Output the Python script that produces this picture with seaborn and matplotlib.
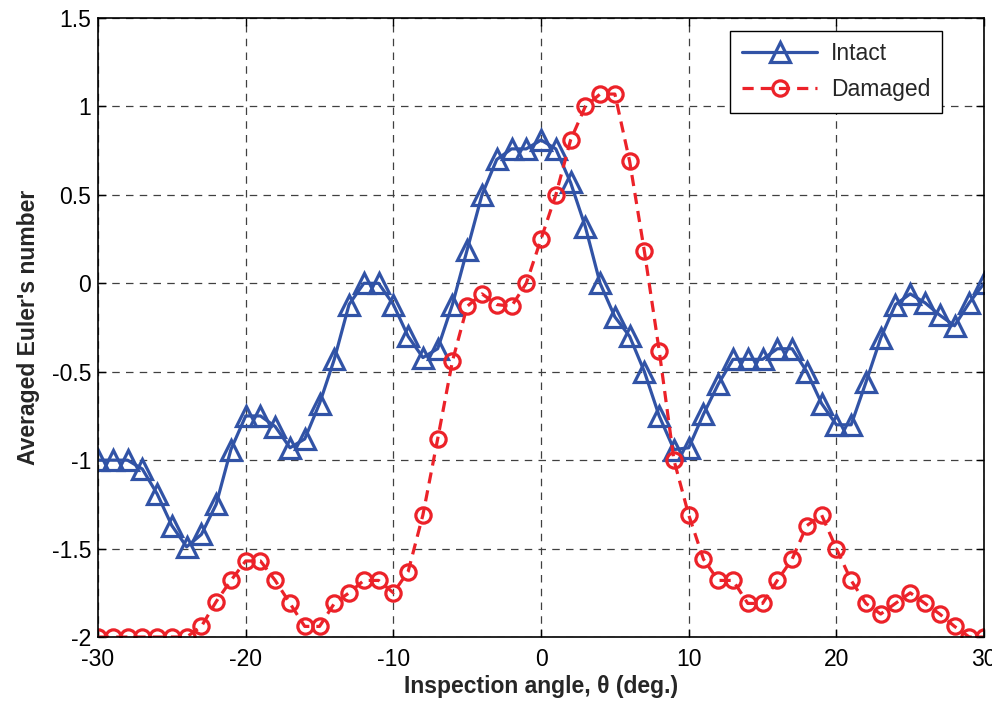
import numpy as np
import pandas as pd
import matplotlib
matplotlib.use("Agg")
import matplotlib.pyplot as plt
import seaborn as sns

angles = list(range(-30, 31))

intact = [-1.0, -1.0, -1.0, -1.05, -1.19, -1.37, -1.49, -1.42, -1.25, -0.94,
          -0.75, -0.75, -0.81, -0.93, -0.88, -0.68, -0.43, -0.12, 0.0, 0.0,
          -0.12, -0.30, -0.42, -0.37, -0.12, 0.19, 0.50, 0.70, 0.76, 0.76,
          0.81, 0.76, 0.57, 0.32, 0.0, -0.19, -0.30, -0.50, -0.75, -0.94,
          -0.93, -0.74, -0.57, -0.43, -0.43, -0.43, -0.37, -0.37, -0.50, -0.68,
          -0.80, -0.80, -0.56, -0.31, -0.12, -0.06, -0.11, -0.18, -0.24, -0.11,
          0.0]

damaged = [-2.0, -2.0, -2.0, -2.0, -2.0, -2.0, -2.0, -1.94, -1.80, -1.68,
           -1.57, -1.57, -1.68, -1.81, -1.94, -1.94, -1.81, -1.75, -1.68, -1.68,
           -1.75, -1.63, -1.31, -0.88, -0.44, -0.13, -0.06, -0.12, -0.13, 0.0,
           0.25, 0.50, 0.81, 1.0, 1.07, 1.07, 0.69, 0.18, -0.38, -1.0,
           -1.31, -1.56, -1.68, -1.68, -1.81, -1.81, -1.68, -1.56, -1.37, -1.31,
           -1.50, -1.68, -1.81, -1.87, -1.81, -1.75, -1.81, -1.87, -1.94, -2.0,
           -2.0]

xticks = [-30, -20, -10, 0, 10, 20, 30]
yticks = [-2, -1.5, -1, -0.5, 0, 0.5, 1, 1.5]
ytick_labels = ["-2", "-1.5", "-1", "-0.5", "0", "0.5", "1", "1.5"]
xtick_labels = ["-30", "-20", "-10", "0", "10", "20", "30"]

sns.set_theme(style="white")
plt.rcParams['font.family'] = ['Liberation Sans', 'DejaVu Sans']
plt.rcParams['axes.unicode_minus'] = False

df = pd.DataFrame({"angle": angles, "Intact": intact, "Damaged": damaged})

fig = plt.figure(figsize=(9.92, 7.06), dpi=100)
ax = fig.add_axes([0.0988, 0.0977, 0.8932, 0.8768])

blue = "#3153A6"
red = "#EC2229"

sns.lineplot(data=df, x="angle", y="Intact", ax=ax, color=blue, linewidth=2.3,
             marker="^", markersize=15, markerfacecolor="none",
             markeredgecolor=blue, markeredgewidth=2.3, label="Intact")
sns.lineplot(data=df, x="angle", y="Damaged", ax=ax, color=red, linewidth=2.3,
             linestyle=(0, (3.5, 2.2)), marker="o", markersize=11,
             markerfacecolor="none", markeredgecolor=red, markeredgewidth=2.3,
             label="Damaged")

ax.set_xlim(-30, 30)
ax.set_ylim(-2, 1.5)
ax.set_xticks(xticks)
ax.set_xticklabels(xtick_labels)
ax.set_yticks(yticks)
ax.set_yticklabels(ytick_labels)
ax.tick_params(direction="in", length=6, width=1, labelsize=16.5, colors="black",
               top=True, right=True, bottom=True, left=True)
ax.tick_params(axis="x", pad=8)
ax.tick_params(axis="y", pad=5)
ax.grid(True, color="0.25", linestyle=(0, (6, 5)), linewidth=0.9)
for s in ax.spines.values():
    s.set_color("black")
    s.set_linewidth(1.2)

ax.set_xlabel("Inspection angle, θ (deg.)", fontsize=16.5, fontweight="bold", labelpad=3)
ax.set_ylabel("Averaged Euler's number", fontsize=16.5, fontweight="bold", labelpad=8)

leg = ax.legend(loc="upper right", bbox_to_anchor=(0.9526, 0.979), fontsize=16.5,
                frameon=True, fancybox=False, handlelength=3.3, borderpad=0.5,
                labelspacing=0.55, handletextpad=0.6, borderaxespad=0)
leg.get_frame().set_edgecolor("black")
leg.get_frame().set_linewidth(1.0)
leg.get_frame().set_alpha(1)

fig.savefig("out.png", dpi=100)
